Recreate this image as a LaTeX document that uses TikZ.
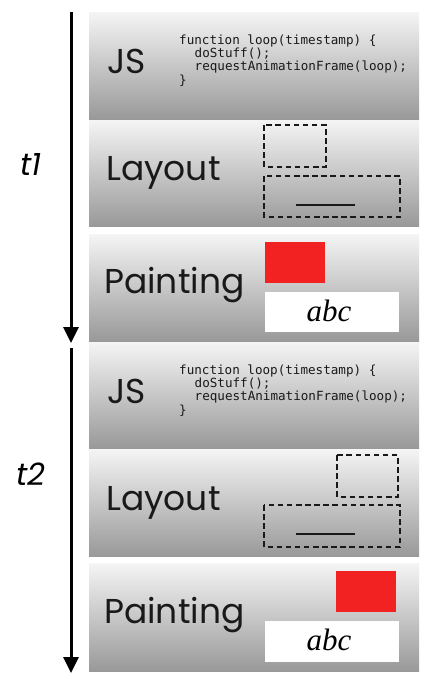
\documentclass[tikz,border=0pt]{standalone}
\usepackage{fontspec}
\setmainfont{Poppins}
\newfontfamily\codefont{DejaVu Sans Mono}
\newfontfamily\serifit{Liberation Serif}
\usetikzlibrary{arrows.meta}
\definecolor{paintred}{RGB}{242,34,34}
\begin{document}
\begin{tikzpicture}[x=1pt,y=-1pt,
  panel/.style={inner sep=0pt, outer sep=0pt, anchor=north west, minimum width=330pt,
    top color=black!4, bottom color=black!40, draw=none},
  stage/.style={font=\fontsize{34.5}{40}\selectfont, anchor=base west, inner sep=0pt, text=black!90},
  codeline/.style={font=\codefont\fontsize{12.6}{13}\selectfont, anchor=base west, inner sep=0pt, text=black!90},
  dbox/.style={draw=black!90, dash pattern=on 5.5pt off 3.6pt, line width=2pt},
  uline/.style={draw=black!90, line width=2pt},
  redbox/.style={fill=paintred},
  whitebox/.style={fill=white},
  abc/.style={font=\serifit\itshape\fontsize{31}{36}\selectfont, anchor=base, inner sep=0pt},
  timearrow/.style={line width=3pt, draw=black, -{Triangle[length=16pt,width=15pt]}},
  tlabel/.style={font=\itshape\fontsize{31}{36}\selectfont, anchor=base, inner sep=0pt}
]
\useasboundingbox (0,0) rectangle (424,673);
\fill[white] (0,0) rectangle (424,673);

% panels
\node[panel, minimum height=107pt] (js1) at (89,12) {};
\node[panel, minimum height=106pt] (lay1) at (89,120) {};
\node[panel, minimum height=107pt] (pai1) at (89,234) {};
\node[panel, minimum height=106pt] (js2) at (89,342) {};
\node[panel, minimum height=107pt] (lay2) at (89,449) {};
\node[panel, minimum height=108pt] (pai2) at (89,563) {};

% stage labels
\node[stage] (jsl1) at (107,73) {JS};
\node[stage] (layl1) at (106,180) {Layout};
\node[stage] (pail1) at (104,293) {Painting};
\node[stage] (jsl2) at (107,403) {JS};
\node[stage] (layl2) at (106,510) {Layout};
\node[stage] (pail2) at (104,623) {Painting};

% code block 1
\node[codeline] (c1a) at (179,44) {function loop(timestamp) \{};
\node[codeline] (c1b) at (194.5,57) {doStuff();};
\node[codeline] (c1c) at (194.5,70.5) {requestAnimationFrame(loop);};
\node[codeline] (c1d) at (179,84) {\}};
% code block 2
\node[codeline] (c2a) at (179,374) {function loop(timestamp) \{};
\node[codeline] (c2b) at (194.5,387) {doStuff();};
\node[codeline] (c2c) at (194.5,400.5) {requestAnimationFrame(loop);};
\node[codeline] (c2d) at (179,414) {\}};

% layout 1
\draw[dbox] (264,125) rectangle (326,167);
\draw[dbox] (264,176) rectangle (400,217);
\draw[uline] (296,205) -- (355,205);
% layout 2
\draw[dbox] (337,455) rectangle (398,497);
\draw[dbox] (264,505) rectangle (400,547);
\draw[uline] (296,534) -- (355,534);

% painting 1
\fill[redbox] (265,242) rectangle (325,283);
\fill[whitebox] (265,292) rectangle (399,332);
\node[abc] (abc1) at (329,321) {abc};
% painting 2
\fill[redbox] (336,571) rectangle (396,612);
\fill[whitebox] (265,621) rectangle (399,662);
\node[abc] (abc2) at (329,650) {abc};

% time arrows
\coordinate (a1s) at (71,12);
\coordinate (a1e) at (71,343);
\coordinate (a2s) at (71,348);
\coordinate (a2e) at (71,673);
\draw[timearrow] (a1s) -- (a1e);
\draw[timearrow] (a2s) -- (a2e);

\node[tlabel] (t1) at (31,175) {t1};
\node[tlabel] (t2) at (31,485) {t2};
\end{tikzpicture}
\end{document}
